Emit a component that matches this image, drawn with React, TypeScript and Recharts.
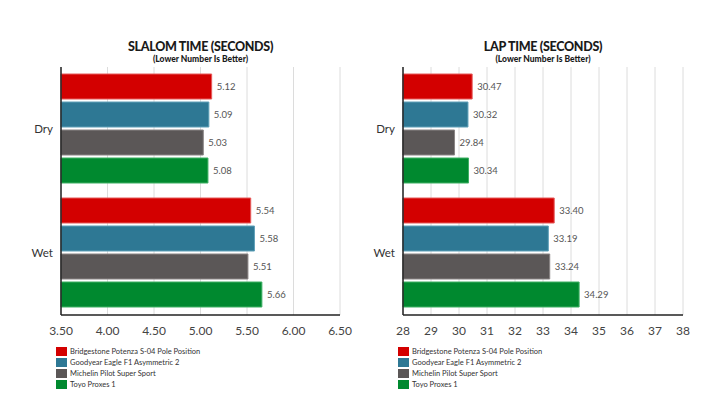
import { Bar, BarChart, CartesianGrid, LabelList, XAxis, YAxis } from "recharts";

const conditions = ["Dry", "Wet"];
const tires = [
  "Bridgestone Potenza S-04 Pole Position",
  "Goodyear Eagle F1 Asymmetric 2",
  "Michelin Pilot Super Sport",
  "Toyo Proxes 1",
];
const tireKeys = ["bridgestone", "goodyear", "michelin", "toyo"];
const colors = ["#d30000", "#2e7894", "#5b5757", "#00892f"];
const borders = ["#e65a5a", "#5fa0b8", "#8a8585", "#3fb065"];

// values per tire, [dry, wet]
const slalomBridgestone = [5.12, 5.54];
const slalomGoodyear = [5.09, 5.58];
const slalomMichelin = [5.03, 5.51];
const slalomToyo = [5.08, 5.66];
const slalomTicks = [3.5, 4, 4.5, 5, 5.5, 6, 6.5];

const lapBridgestone = [30.47, 33.4];
const lapGoodyear = [30.32, 33.19];
const lapMichelin = [29.84, 33.24];
const lapToyo = [30.34, 34.29];
const lapTicks = [28, 29, 30, 31, 32, 33, 34, 35, 36, 37, 38];

const FONT = "Lato, 'Open Sans', sans-serif";

function buildRows(series: number[][]) {
  return conditions.map((name, i) => {
    const row: Record<string, string | number> = { name };
    tireKeys.forEach((k, j) => {
      row[k] = series[j][i];
    });
    return row;
  });
}

interface PanelProps {
  left: number;
  title: string;
  rows: Array<Record<string, string | number>>;
  ticks: number[];
  digits: number;
  axisWidth: number;
  rightMargin: number;
}

function Panel({ left, title, rows, ticks, digits, axisWidth, rightMargin }: PanelProps) {
  const plotLeft = axisWidth;
  const plotRight = 360 - rightMargin;
  const center = (plotLeft + plotRight) / 2;
  return (
    <div style={{ position: "absolute", left, top: 0, width: 360, height: 409 }}>
      <div
        style={{
          position: "absolute",
          left: center - 150,
          width: 300,
          top: 40,
          textAlign: "center",
          fontFamily: FONT,
          fontWeight: 900,
          fontSize: 12.5,
          letterSpacing: -0.3,
          color: "#1a1a1a",
          lineHeight: "13px",
        }}
      >
        {title}
      </div>
      <div
        style={{
          position: "absolute",
          left: center - 150,
          width: 300,
          top: 55,
          textAlign: "center",
          fontFamily: FONT,
          fontWeight: 900,
          fontSize: 8.5,
          color: "#1a1a1a",
          lineHeight: "9px",
        }}
      >
        (Lower Number Is Better)
      </div>
      <BarChart
        width={360}
        height={409}
        data={rows}
        layout="vertical"
        margin={{ top: 67, right: rightMargin, bottom: 64, left: 0 }}
        barCategoryGap={7}
        barGap={3}
        style={{ fontFamily: FONT }}
      >
        <CartesianGrid horizontal={false} stroke="#dcdcdc" strokeWidth={1} />
        <XAxis
          type="number"
          domain={[ticks[0], ticks[ticks.length - 1]]}
          ticks={ticks}
          interval={0}
          tickFormatter={(v: number) => v.toFixed(digits)}
          axisLine={{ stroke: "#222", strokeWidth: 1.5 }}
          tickLine={false}
          tickMargin={5}
          tick={{ fill: "#444", fontSize: 12 }}
          height={30}
        />
        <YAxis
          type="category"
          dataKey="name"
          width={axisWidth}
          axisLine={{ stroke: "#222", strokeWidth: 1.5 }}
          tickLine={false}
          tick={{ fill: "#333", fontSize: 11.5 }}
        />
        {tireKeys.map((k, i) => (
          <Bar
            key={k}
            dataKey={k}
            fill={colors[i]}
            stroke={borders[i]}
            strokeWidth={1}
            isAnimationActive={false}
          >
            <LabelList
              dataKey={k}
              position="right"
              offset={5}
              formatter={(v: number) => v.toFixed(2)}
              style={{ fill: "#555", fontSize: 9.5 }}
            />
          </Bar>
        ))}
      </BarChart>
      <div style={{ position: "absolute", left: axisWidth - 5, top: 346 }}>
        {tires.map((t, i) => (
          <div
            key={t}
            style={{
              display: "flex",
              alignItems: "center",
              height: 11,
              fontFamily: FONT,
              fontSize: 7.5,
              color: "#333",
            }}
          >
            <span
              style={{
                display: "inline-block",
                width: 11,
                height: 9,
                background: colors[i],
                marginRight: 3,
              }}
            />
            {t}
          </div>
        ))}
      </div>
    </div>
  );
}

export default function App() {
  const slalomRows = buildRows([slalomBridgestone, slalomGoodyear, slalomMichelin, slalomToyo]);
  const lapRows = buildRows([lapBridgestone, lapGoodyear, lapMichelin, lapToyo]);
  return (
    <div style={{ position: "absolute", left: 0, top: 0, width: 720, height: 409, background: "#fff" }}>
      <Panel
        left={0}
        title="SLALOM TIME (SECONDS)"
        rows={slalomRows}
        ticks={slalomTicks}
        digits={2}
        axisWidth={61}
        rightMargin={20}
      />
      <Panel
        left={360}
        title="LAP TIME (SECONDS)"
        rows={lapRows}
        ticks={lapTicks}
        digits={0}
        axisWidth={43}
        rightMargin={37}
      />
    </div>
  );
}
